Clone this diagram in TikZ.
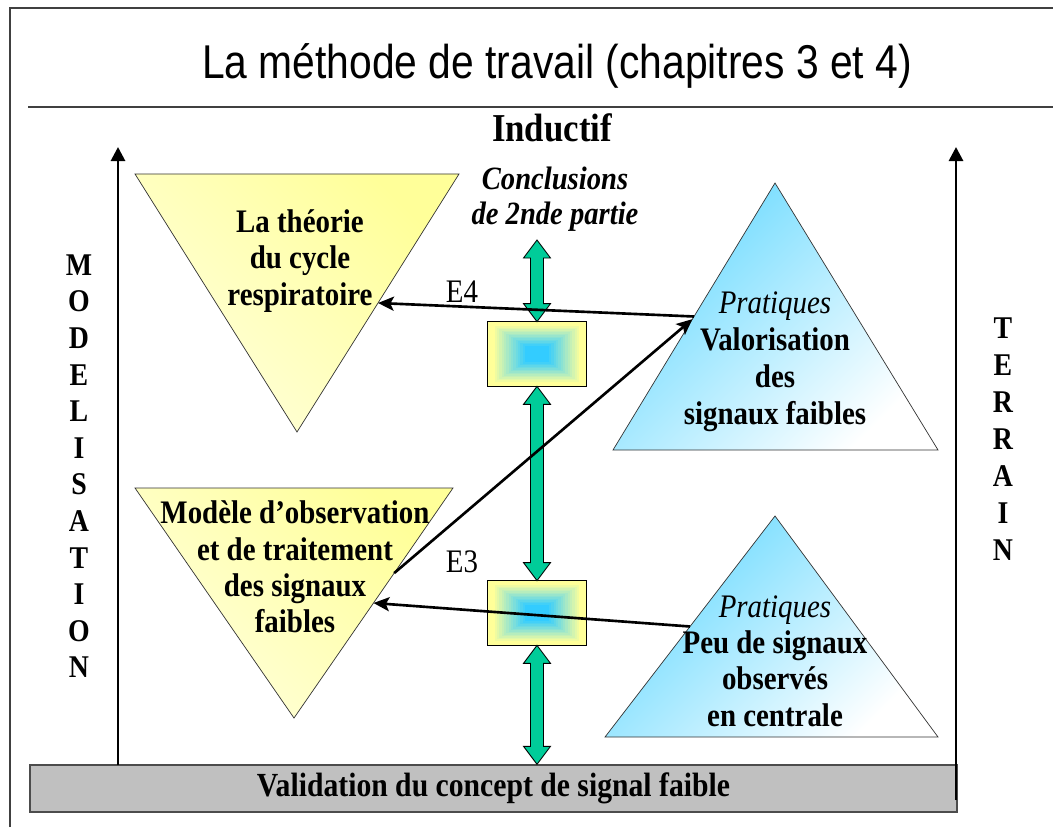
\documentclass[tikz,border=0pt]{standalone}
\usepackage{fontspec}
\setmainfont{Liberation Serif}[FakeStretch=0.88]
\newfontfamily\arialfont{Liberation Sans}[FakeStretch=0.86]
\usetikzlibrary{arrows.meta,calc}

\definecolor{paleyel}{RGB}{255,255,153}
\definecolor{skyblue}{RGB}{51,204,255}
\definecolor{seagreen}{RGB}{0,204,153}
\definecolor{bargrey}{RGB}{192,192,192}

\tikzset{
  yeltri/.style={draw=black!80,line width=0.4pt,top color=paleyel,bottom color=paleyel!35!white,shading angle=-45},
  bluetri/.style={draw=black!80,line width=0.4pt,top color=skyblue!75!white,middle color=skyblue,bottom color=white,shading angle=45},
  tritext/.style={align=center,font=\fontsize{18.7}{20.6}\selectfont\bfseries},
  axisletter/.style={font=\fontsize{18}{19}\selectfont\bfseries},
  link/.style={line width=1.5pt,-{Stealth[length=9pt,width=8pt,inset=2pt]}},
  axis/.style={line width=1.6pt,-{Triangle[length=8pt,width=8pt]}},
  fatarrow/.style={fill=seagreen,draw=black,line width=0.5pt},
  frame/.style={draw=black!75,line width=0.8pt},
  gradbox/.style={minimum width=1.96cm,minimum height=1.28cm,inner sep=0pt}
}

% double headed green arrow, top tip #1, bottom tip #2
\newcommand{\greenarrow}[2]{%
  \filldraw[fatarrow] (#1) -- ++(-13.5,18) -- ++(7,0) -- ($(#2)+(-6.5,-18)$) -- ++(-7,0) -- (#2)
    -- ++(13.5,-18) -- ++(-7,0) -- ($(#1)+(6.5,18)$) -- ++(7,0) -- cycle;}
% yellow to blue rectangular gradient inside node #1
\newcommand{\gradfill}[1]{%
  \foreach \k in {0,...,20}{%
    \pgfmathsetmacro{\mix}{min(100,100*max(0,\k-2)/14)}
    \fill[skyblue!\mix!paleyel] ($(#1.south west)+(\k*2.33,-\k*1.52)$) rectangle ($(#1.north east)+(-\k*2.33,\k*1.52)$);}
  \draw[line width=0.5pt] (#1.south west) rectangle (#1.north east);}

\begin{document}
\begin{tikzpicture}[x=0.02cm,y=-0.02cm]
\useasboundingbox (0,0) rectangle (1053,827);
\draw[frame] (10,827) -- (10,8) -- (1053,8);
\draw[frame] (28,107) -- (1053,107);
\node[font=\arialfont\fontsize{27}{30}\selectfont] (title) at (557,66) {La méthode de travail (chapitres 3 et 4)};
\node[font=\fontsize{22.5}{24}\selectfont\bfseries] (inductif) at (552,128) {Inductif};
\node[align=center,font=\fontsize{18.5}{19.8}\selectfont\bfseries\itshape] (concl) at (555,199) {Conclusions\\de 2nde partie};

% triangles
\coordinate (ya1) at (135,174); \coordinate (ya2) at (459,174); \coordinate (ya3) at (297,432);
\coordinate (yb1) at (135,488); \coordinate (yb2) at (453,488); \coordinate (yb3) at (294,718);
\coordinate (ba1) at (775,183); \coordinate (ba2) at (938,450); \coordinate (ba3) at (613,450);
\coordinate (bb1) at (775,516); \coordinate (bb2) at (938,737); \coordinate (bb3) at (605,737);
\shadedraw[yeltri] (ya1) -- (ya2) -- (ya3) -- cycle;
\shadedraw[yeltri] (yb1) -- (yb2) -- (yb3) -- cycle;
\shadedraw[bluetri] (ba1) -- (ba2) -- (ba3) -- cycle;
\shadedraw[bluetri] (bb1) -- (bb2) -- (bb3) -- cycle;
\node[tritext] (theorie) at (300,261) {La théorie\\du cycle\\respiratoire};
\node[tritext] (modele) at (295,567) {Modèle d’observation\\et de traitement\\des signaux\\faibles};
\node[tritext,font=\fontsize{18.7}{21}\selectfont\bfseries] (valor) at (775,362) {{\mdseries\itshape Pratiques}\\Valorisation\\des\\signaux faibles};
\node[tritext] (peu) at (775,661) {{\mdseries\itshape Pratiques}\\Peu de signaux\\observés\\en centrale};

% bar and boxes
\node[draw=black!70,line width=0.8pt,fill=bargrey,minimum width=18.54cm,minimum height=0.94cm,
  font=\fontsize{19.2}{20}\selectfont\bfseries] (bar) at (493.5,788.5) {Validation du concept de signal faible};
\node[gradbox] (b1) at (537,354) {};
\node[gradbox] (b2) at (537,613) {};
\gradfill{b1}
\gradfill{b2}
\coordinate (ctop) at (537,240);
\coordinate (cbot) at (b2.south |- bar.north);
\greenarrow{ctop}{b1.north}
\greenarrow{b1.south}{b2.north}
\greenarrow{b2.south}{cbot}

% links
\coordinate (e4a) at ($(ba1)!0.5!(ba3)$); \coordinate (e4b) at ($(ya2)!0.5!(ya3)$);
\coordinate (dga) at ($(yb2)!0.37!(yb3)$); \coordinate (dgb) at ($(ba1)!0.51!(ba3)$);
\coordinate (e3a) at ($(bb1)!0.5!(bb3)$); \coordinate (e3b) at ($(yb2)!0.5!(yb3)$);
\draw[link] (e4a) -- (e4b);
\draw[link] (dga) -- (dgb);
\draw[link] (e3a) -- (e3b);
\node[font=\fontsize{18.7}{20}\selectfont] (lab4) at (462,292) {E4};
\node[font=\fontsize{18.7}{20}\selectfont] (lab3) at (462,562) {E3};

% axes
\coordinate (lbot) at (118,765); \coordinate (ltop) at (118,147);
\coordinate (rbot) at (956,800); \coordinate (rtop) at (956,147);
\draw[axis] (lbot) -- (ltop);
\draw[axis] (rbot) -- (rtop);
\foreach \c [count=\i] in {M,O,D,E,L,I,S,A,T,I,O,N}
  \node[axisletter] (mod\i) at (79,{228.4+36.6*\i}) {\c};
\foreach \c [count=\i] in {T,E,R,R,A,I,N}
  \node[axisletter] (ter\i) at (1003,{291+37*\i}) {\c};
\end{tikzpicture}
\end{document}
